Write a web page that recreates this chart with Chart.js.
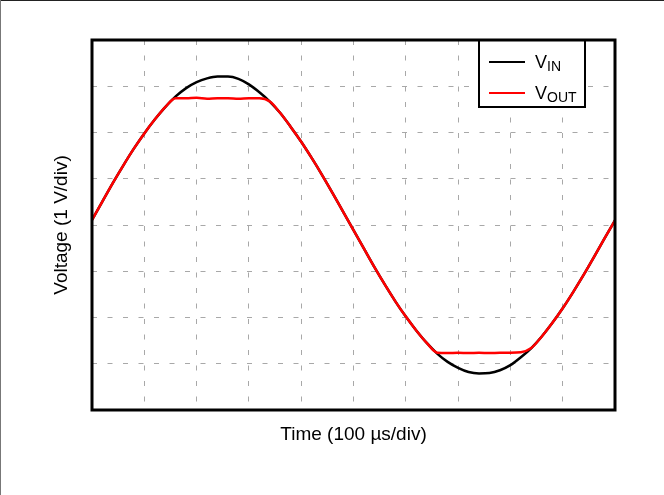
<!DOCTYPE html>
<html>
<head>
<meta charset="utf-8">
<script src="https://cdn.jsdelivr.net/npm/chart.js@4.4.0/dist/chart.umd.min.js"></script>
<style>
  body { margin: 0; background: #fff; }
  canvas { display: block; }
</style>
</head>
<body>
<canvas id="myChart" width="664" height="495"></canvas>
<script>
// time in divisions (100 us/div), voltage in divisions (1 V/div)
const timeDiv = [0, 0.2, 0.4, 0.6, 0.8, 1.0, 1.2, 1.4, 1.6, 1.8,
                 2.0, 2.2, 2.4, 2.6, 2.8, 3.0, 3.2, 3.4, 3.6, 3.8,
                 4.0, 4.2, 4.4, 4.6, 4.8, 5.0, 5.2, 5.4, 5.6, 5.8,
                 6.0, 6.2, 6.4, 6.6, 6.8, 7.0, 7.2, 7.4, 7.6, 7.8,
                 8.0, 8.2, 8.4, 8.6, 8.8, 9.0, 9.2, 9.4, 9.6, 9.8, 10.0];
const vin = [0.11, 0.51, 0.91, 1.29, 1.65, 1.98, 2.28, 2.55, 2.78, 2.96,
             3.09, 3.17, 3.21, 3.21, 3.16, 3.04, 2.87, 2.67, 2.42, 2.12,
             1.80, 1.45, 1.08, 0.69, 0.29, -0.11, -0.51, -0.91, -1.29, -1.65,
             -1.98, -2.28, -2.55, -2.78, -2.96, -3.09, -3.18, -3.21, -3.20, -3.14,
             -3.03, -2.86, -2.66, -2.41, -2.12, -1.80, -1.45, -1.08, -0.69, -0.29, 0.10];
const vout = [0.11, 0.51, 0.91, 1.29, 1.65, 1.98, 2.28, 2.55, 2.74, 2.74,
              2.75, 2.73, 2.74, 2.74, 2.73, 2.74, 2.74, 2.67, 2.42, 2.12,
              1.80, 1.45, 1.08, 0.69, 0.29, -0.11, -0.51, -0.91, -1.29, -1.65,
              -1.98, -2.28, -2.55, -2.76, -2.77, -2.76, -2.77, -2.76, -2.77, -2.76,
              -2.76, -2.75, -2.66, -2.41, -2.12, -1.80, -1.45, -1.08, -0.69, -0.29, 0.10];
const legendItems = [['V', 'IN', '#000000'], ['V', 'OUT', '#ff0000']];

const FONT = '"Liberation Sans", Arial, sans-serif';
const CHART = document.getElementById("myChart");

// white page, outer edge lines, plot frame and legend box
const framePlugin = {
    id: 'frame',
    beforeDraw(chart) {
        const ctx = chart.ctx;
        ctx.save();
        ctx.fillStyle = '#fff';
        ctx.fillRect(0, 0, chart.width, chart.height);
        ctx.fillStyle = '#222';
        ctx.fillRect(0, 0, chart.width, 1);
        ctx.fillStyle = '#777';
        ctx.fillRect(0, 0, 1, chart.height);
        ctx.restore();
    },
    afterDatasetsDraw(chart) {
        const ctx = chart.ctx;
        const a = chart.chartArea;
        ctx.save();
        // legend box
        ctx.fillStyle = '#fff';
        ctx.fillRect(479, a.top, 106, 67);
        ctx.lineWidth = 2;
        ctx.strokeStyle = '#000';
        ctx.strokeRect(479, a.top, 106, 67);
        legendItems.forEach(function (it, i) {
            const y = 62 + i * 31;
            ctx.strokeStyle = it[2];
            ctx.lineWidth = 2;
            ctx.beginPath();
            ctx.moveTo(489, y);
            ctx.lineTo(525, y);
            ctx.stroke();
            ctx.fillStyle = '#000';
            ctx.textBaseline = 'alphabetic';
            ctx.font = '18px ' + FONT;
            ctx.fillText(it[0], 535, y + 6);
            const w = ctx.measureText(it[0]).width;
            ctx.font = '14px ' + FONT;
            ctx.fillText(it[1], 535 + w, y + 9);
        });
        // plot frame
        ctx.lineWidth = 3;
        ctx.strokeStyle = '#000';
        ctx.strokeRect(a.left, a.top, a.right - a.left, a.bottom - a.top);
        ctx.restore();
    }
};

const myChart = new Chart(CHART, {
    type: 'line',
    data: {
        datasets: [{
            label: 'VIN',
            data: timeDiv.map((t, i) => ({x: t, y: vin[i]})),
            borderColor: '#000000',
            borderWidth: 2.5,
            pointRadius: 0,
            cubicInterpolationMode: 'monotone',
            order: 1
        }, {
            label: 'VOUT',
            data: timeDiv.map((t, i) => ({x: t, y: vout[i]})),
            borderColor: '#ff0000',
            borderWidth: 2.5,
            pointRadius: 0,
            cubicInterpolationMode: 'monotone',
            order: 0
        }]
    },
    options: {
        responsive: false,
        animation: false,
        devicePixelRatio: 1,
        layout: { padding: { top: 40, right: 49, left: 0, bottom: 0 } },
        plugins: { legend: { display: false }, tooltip: { enabled: false } },
        scales: {
            x: {
                type: 'linear',
                min: 0,
                max: 10,
                ticks: { display: false, stepSize: 1 },
                grid: { color: '#a8a8a8', lineWidth: 1, drawTicks: false },
                border: { display: false, dash: [5, 10.5] },
                title: {
                    display: true,
                    text: 'Time (100 µs/div)',
                    color: '#000',
                    font: { size: 19, family: FONT },
                    padding: { top: 0, bottom: 48.6 }
                },
                afterFit(scale) { scale.height = 85; }
            },
            y: {
                min: -4,
                max: 4,
                ticks: { display: false, stepSize: 1 },
                grid: { color: '#a8a8a8', lineWidth: 1, drawTicks: false },
                border: { display: false, dash: [5, 10.5] },
                title: {
                    display: true,
                    text: 'Voltage (1 V/div)',
                    color: '#000',
                    font: { size: 19, family: FONT },
                    padding: { top: 50, bottom: 0 }
                },
                afterFit(scale) { scale.width = 92; }
            }
        }
    },
    plugins: [framePlugin]
});
</script>
</body>
</html>
